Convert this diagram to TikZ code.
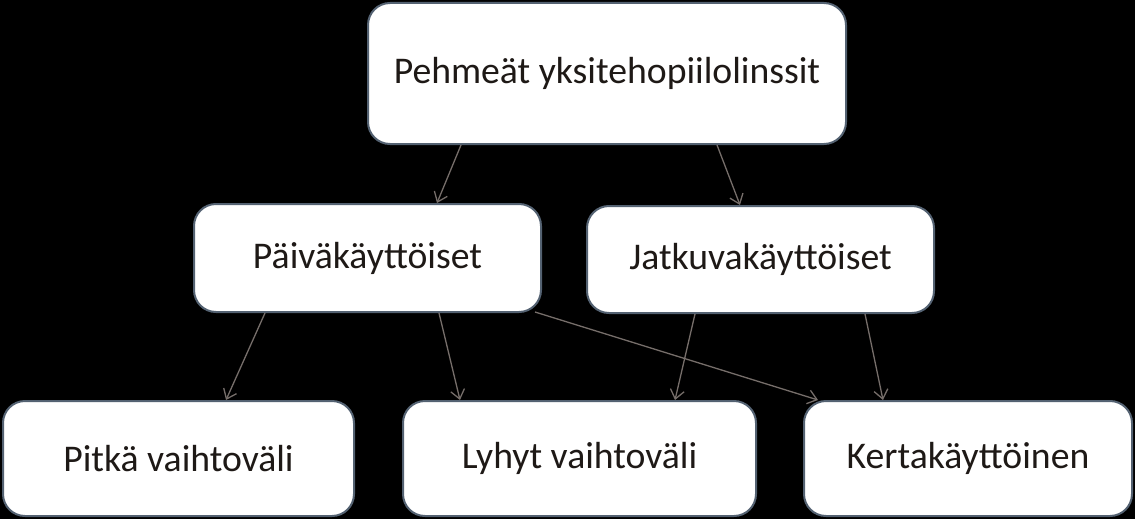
\documentclass[tikz,border=0pt]{standalone}
\usepackage{fontspec}
\setmainfont{Carlito}
\usetikzlibrary{arrows.meta,calc}
\definecolor{boxline}{RGB}{84,98,114}
\definecolor{arrowc}{RGB}{118,110,106}
\definecolor{txt}{RGB}{30,25,22}
\tikzset{
  box/.style={draw=boxline, line width=2pt, fill=white, rounded corners=22pt, inner sep=0pt, text=txt, font=\fontsize{37.7}{42}\selectfont, anchor=center},
  conn/.style={draw=arrowc, line width=1.3pt, -{Straight Barb[length=9pt,width=14pt,line width=1.3pt]}}
}
\begin{document}
\begin{tikzpicture}[x=1pt,y=-1pt]
\fill[black] (0,0) rectangle (1135,519);
\useasboundingbox (0,0) rectangle (1135,519);
\node[box, minimum width=478pt, minimum height=141pt] (top) at (607,73.5) {Pehmeät yksitehopiilolinssit};
\node[box, minimum width=347pt, minimum height=108pt] (paiva) at (367.5,258) {Päiväkäyttöiset};
\node[box, minimum width=347pt, minimum height=107pt] (jatku) at (760.5,259.5) {Jatkuvakäyttöiset};
\node[box, minimum width=351pt, minimum height=115pt] (pitka) at (178.5,458.5) {Pitkä vaihtoväli};
\node[box, minimum width=353pt, minimum height=115pt] (lyhyt) at (579.5,458.5) {Lyhyt vaihtoväli};
\node[box, minimum width=328pt, minimum height=115pt] (kerta) at (968,458.5) {Kertakäyttöinen};
\draw[conn] ([xshift=94pt]top.south west) -- ([xshift=244pt]paiva.north west);
\draw[conn] ([xshift=350pt]top.south west) -- ([xshift=154pt]jatku.north west);
\draw[conn] ([xshift=72pt]paiva.south west) -- ([xshift=224pt]pitka.north west);
\draw[conn] ([xshift=246pt]paiva.south west) -- ([xshift=58pt]lyhyt.north west);
\draw[conn] ([xshift=342pt,yshift=1pt]paiva.south west) -- ([xshift=15pt]kerta.north west);
\draw[conn] ([xshift=109pt]jatku.south west) -- ([xshift=273pt]lyhyt.north west);
\draw[conn] ([xshift=279pt]jatku.south west) -- ([xshift=80pt]kerta.north west);
\end{tikzpicture}
\end{document}
